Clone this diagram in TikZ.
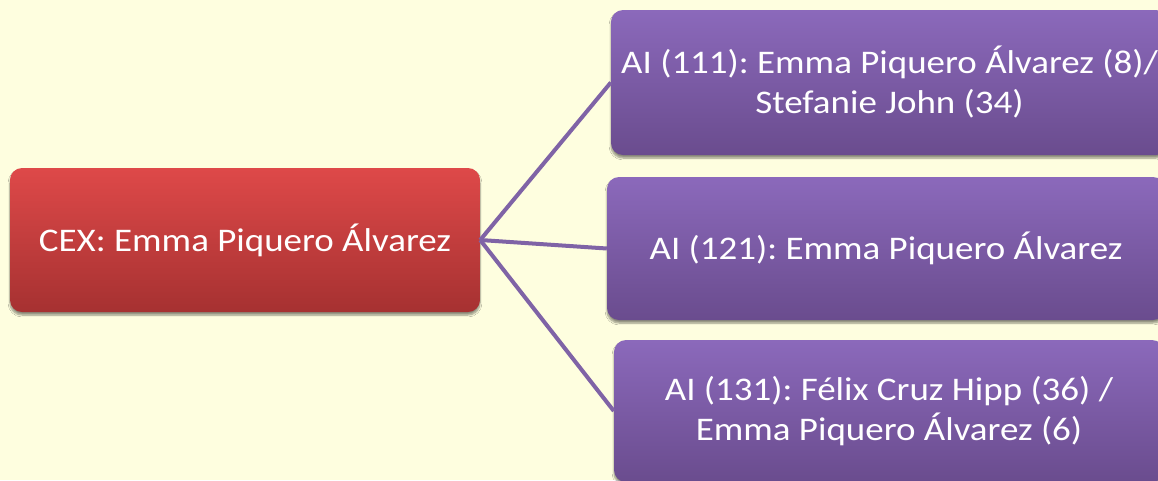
\documentclass[tikz,border=0pt]{standalone}
\usepackage{fontspec}
\setmainfont{Carlito}[FakeStretch=1.12]
\frenchspacing
\usetikzlibrary{shadows.blur}
\definecolor{bg}{HTML}{FEFEDF}
\definecolor{redtop}{HTML}{DE4949}
\definecolor{redbot}{HTML}{A63131}
\definecolor{purtop}{HTML}{8B69BB}
\definecolor{purbot}{HTML}{6A4C8E}
\definecolor{linkcol}{HTML}{7F63A6}
\begin{document}
\begin{tikzpicture}[x=1pt,y=-1pt,
  box/.style={rectangle, rounded corners=12pt, inner sep=0pt, text=white, align=center,
    font=\fontsize{33}{40}\selectfont,
    blur shadow={shadow xshift=0pt,shadow yshift=-3pt,shadow opacity=45,shadow blur steps=6}},
  redbox/.style={box, top color=redtop, bottom color=redbot},
  purbox/.style={box, top color=purtop, bottom color=purbot},
  linkline/.style={draw=linkcol, line width=4pt}]
\fill[bg] (0,0) rectangle (1158,480);
\useasboundingbox (0,0) rectangle (1158,480);
\clip (0,0) rectangle (1158,480);
\node[redbox, minimum width=470pt, minimum height=144pt] (cex) at (245,240) {CEX: Emma Piquero Álvarez};
\node[purbox, minimum width=557pt, minimum height=145pt] (ai1) at (889.5,82.5) {AI (111): Emma Piquero Álvarez (8)/\\Stefanie John (34)};
\node[purbox, minimum width=558pt, minimum height=143pt] (ai2) at (886,248.5) {AI (121): Emma Piquero Álvarez};
\node[purbox, minimum width=550pt, minimum height=142pt] (ai3) at (889,411) {AI (131): Félix Cruz Hipp (36) /\\Emma Piquero Álvarez (6)};
\draw[linkline] (cex.east) -- (ai1.west);
\draw[linkline] (cex.east) -- (ai2.west);
\draw[linkline] (cex.east) -- (ai3.west);
\end{tikzpicture}
\end{document}
